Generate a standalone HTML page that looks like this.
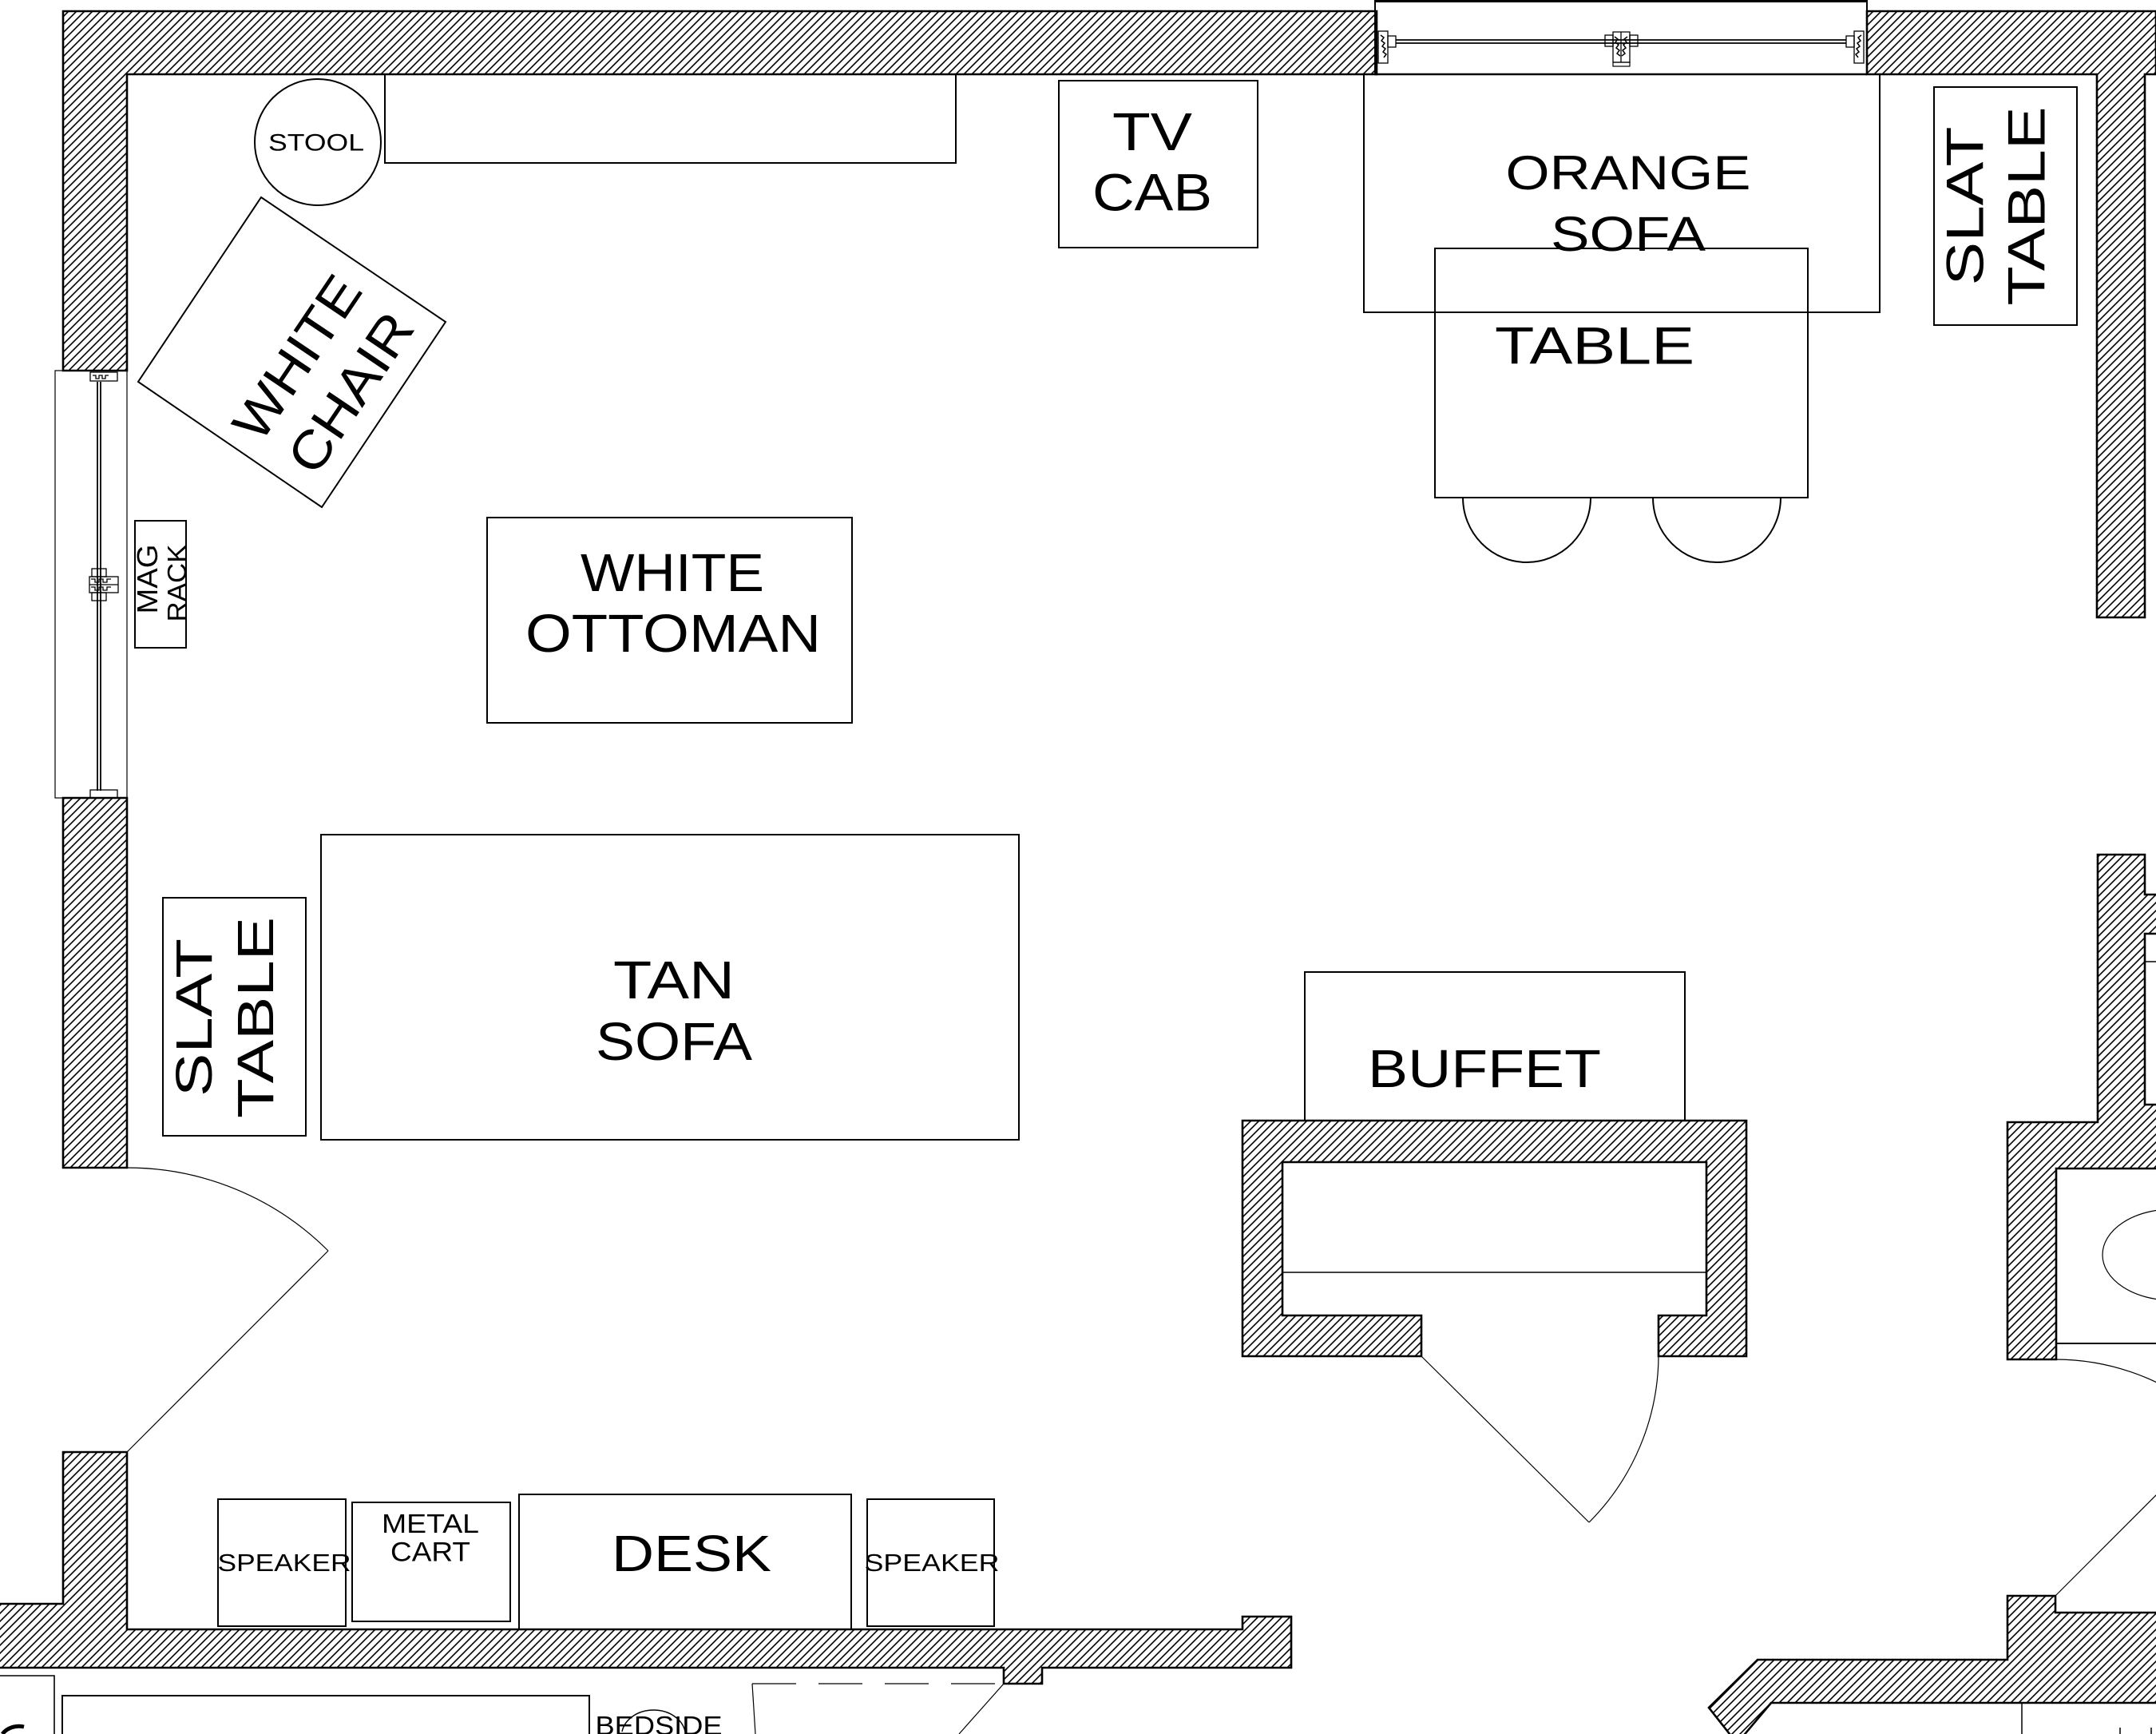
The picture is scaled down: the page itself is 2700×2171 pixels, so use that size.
<!DOCTYPE html>
<html>
<head>
<meta charset="utf-8">
<style>
html,body{margin:0;padding:0;background:#fff;}
svg{display:block;}
text{font-family:"Liberation Sans", sans-serif; fill:#000;}
</style>
</head>
<body>
<svg width="2700" height="2171" viewBox="0 0 2700 2171" xmlns="http://www.w3.org/2000/svg">
<defs>
<pattern id="h" width="10" height="10" patternUnits="userSpaceOnUse">
<path d="M0,10 L10,0 M-2,2 L2,-2 M8,12 L12,8" stroke="#000" stroke-width="1.6" fill="none"/>
</pattern>
</defs>
<rect width="2700" height="2171" fill="#fff"/>

<!-- WALLS -->
<g fill="url(#h)" stroke="#000" stroke-width="2.6" stroke-linejoin="miter">
<polygon points="79,14 1724,14 1724,93 159,93 159,464 79,464"/>
<polygon points="2338,14 2700,14 2700,93 2686,93 2686,773 2626,773 2626,93 2338,93"/>
<polygon points="79,999 159,999 159,1462 79,1462"/>
<polygon points="79,1818 159,1818 159,2040 1556,2040 1556,2024 1617,2024 1617,2088 1305,2088 1305,2108 1257,2108 1257,2088 -5,2088 -5,2008 79,2008"/>
<polygon points="1556,1403 2187,1403 2187,1698 2077,1698 2077,1647 2137,1647 2137,1455 1606,1455 1606,1647 1780,1647 1780,1698 1556,1698"/>
<polygon points="2627,1070 2686,1070 2686,1120 2705,1120 2705,1169 2686,1169 2686,1383 2705,1383 2705,1463 2575,1463 2575,1702 2514,1702 2514,1405 2627,1405"/>
<polygon points="2201,2078 2514,2078 2514,1998 2574,1998 2574,2019 2705,2019 2705,2132 2218,2132 2181,2176 2170,2176 2140,2138"/>
</g>

<!-- Top window -->
<g stroke="#000" fill="none">
<line x1="1722" y1="1.5" x2="2338" y2="1.5" stroke-width="3"/>
<line x1="1722" y1="0" x2="1722" y2="93" stroke-width="2"/>
<line x1="2338" y1="0" x2="2338" y2="93" stroke-width="2"/>
<line x1="1722" y1="93" x2="2338" y2="93" stroke-width="2.5"/>
<line x1="1748" y1="50" x2="2312" y2="50" stroke-width="1.8"/>
<line x1="1748" y1="54" x2="2312" y2="54" stroke-width="1.8"/>
<rect x="1726" y="39" width="12" height="40" stroke-width="1.3"/>
<rect x="1738" y="45" width="10" height="14" stroke-width="1.3"/>
<path d="M1729,44 l4,3 l-3,4 l4,3 l-3,4 l4,3 l-3,4 l4,3 l-3,4" stroke-width="1.5"/>
<rect x="2010" y="44" width="10" height="14" stroke-width="1.3"/>
<rect x="2041" y="44" width="10" height="14" stroke-width="1.3"/>
<path d="M2020,40 h21 v38 h-21 z" stroke-width="1.3"/>
<line x1="2030" y1="40" x2="2030" y2="78" stroke-width="1.3"/>
<rect x="2020" y="78" width="21" height="5" stroke-width="1.2"/>
<path d="M2022,46 l4,3 l-3,4 l4,3 l-3,4 l4,3 l-3,4 l4,3 M2038,46 l-4,3 l3,4 l-4,3 l3,4 l-4,3 l3,4 l-4,3" stroke-width="1.5"/>
<rect x="2322" y="39" width="12" height="40" stroke-width="1.3"/>
<rect x="2312" y="45" width="10" height="14" stroke-width="1.3"/>
<path d="M2331,44 l-4,3 l3,4 l-4,3 l3,4 l-4,3 l3,4 l-4,3 l3,4" stroke-width="1.5"/>
</g>

<!-- Left window -->
<g stroke="#000" fill="none">
<rect x="69" y="464" width="90" height="535" stroke-width="1.2"/>
<line x1="122" y1="478" x2="122" y2="990" stroke-width="1.8"/>
<line x1="126" y1="478" x2="126" y2="990" stroke-width="1.8"/>
<rect x="113" y="466" width="34" height="11" stroke-width="1.3"/>
<path d="M116,470 h4 v4 h4 v-4 h4 v4 h4 v-4 h4" stroke-width="1.3"/>
<rect x="115" y="712" width="18" height="10" stroke-width="1.3"/>
<rect x="115" y="742" width="18" height="10" stroke-width="1.3"/>
<rect x="112" y="722" width="36" height="20" stroke-width="1.3"/>
<line x1="112" y1="732" x2="148" y2="732" stroke-width="1.3"/>
<path d="M114,725 h5 v4 h5 v-4 h5 v4 h5 v-4 h5 M114,735 h5 v4 h5 v-4 h5 v4 h5 v-4 h5" stroke-width="1.3"/>
<rect x="113" y="989" width="34" height="10" stroke-width="1.3"/>
</g>

<!-- Doors / thin lines -->
<g stroke="#000" fill="none" stroke-width="1.2">
<path d="M159,1462 A356,356 0 0 1 411,1566"/>
<line x1="159" y1="1818" x2="411" y2="1566"/>
<line x1="1780" y1="1698" x2="1990" y2="1906"/>
<path d="M1990,1906 A297,297 0 0 0 2077,1698"/>
<line x1="1606" y1="1593" x2="2137" y2="1593" stroke-width="1.6"/>
<path d="M2574,1702 A296,296 0 0 1 2783,1789"/>
<line x1="2574" y1="1998" x2="2783" y2="1789"/>
<line x1="2575" y1="1682" x2="2700" y2="1682" stroke-width="2"/>
<ellipse cx="2720" cy="1571" rx="87" ry="57"/>
<rect x="2686" y="1169" width="20" height="214" stroke-width="2"/>
<line x1="2686" y1="1204" x2="2700" y2="1204" stroke-width="1.5"/>
<line x1="2532" y1="2132" x2="2532" y2="2171" stroke-width="1.5"/>
<line x1="2655" y1="2163" x2="2655" y2="2171" stroke-width="1.5"/>
<line x1="2694" y1="2163" x2="2694" y2="2171" stroke-width="1.5"/>
<polyline points="0,2098 68,2098 68,2171" stroke-width="1.6"/>
<polyline points="78,2171 78,2123 738,2123 738,2171" stroke-width="2"/>
<line x1="942" y1="2108" x2="1257" y2="2108" stroke-dasharray="55 28"/>
<line x1="942" y1="2108" x2="946" y2="2171"/>
<line x1="1257" y1="2108" x2="1201" y2="2171"/>
<path d="M779,2168 A40,32 0 0 1 858,2168" stroke-width="1.5"/>
<path d="M30,2162 A24,20 0 0 0 3,2171" stroke-width="5"/>
</g>

<!-- FURNITURE -->
<g stroke="#000" fill="none" stroke-width="2">
<rect x="482" y="93" width="715" height="111"/>
<circle cx="398" cy="178" r="79"/>
<polygon points="327,247 558,403 403,635 173,478"/>
<rect x="169" y="652" width="64" height="159"/>
<rect x="1326" y="101" width="249" height="209"/>
<rect x="1708" y="93" width="646" height="298"/>
<rect x="1797" y="311" width="467" height="312"/>
<path d="M1832,623 A80,81 0 0 0 1992,623"/>
<path d="M2070,623 A80,81 0 0 0 2230,623"/>
<rect x="2422" y="109" width="179" height="298"/>
<rect x="610" y="648" width="457" height="257"/>
<rect x="402" y="1045" width="874" height="382"/>
<rect x="204" y="1124" width="179" height="298"/>
<rect x="273" y="1877" width="160" height="159"/>
<rect x="441" y="1881" width="198" height="149"/>
<rect x="650" y="1871" width="416" height="169"/>
<rect x="1086" y="1877" width="159" height="159"/>
<rect x="1634" y="1217" width="476" height="186"/>
</g>

<!-- LABELS -->
<g text-anchor="middle">
<text x="396" y="188.5" font-size="29.5" textLength="120" lengthAdjust="spacingAndGlyphs">STOOL</text>

<g transform="translate(371,447) rotate(-56)"><text x="0" y="24" font-size="66" textLength="232" lengthAdjust="spacingAndGlyphs">WHITE</text></g>
<g transform="translate(438,491) rotate(-56)"><text x="0" y="24" font-size="66" textLength="226" lengthAdjust="spacingAndGlyphs">CHAIR</text></g>

<g transform="translate(184,725) rotate(-90)"><text x="0" y="13" font-size="36" textLength="87" lengthAdjust="spacingAndGlyphs">MAG</text></g>
<g transform="translate(221,730) rotate(-90)"><text x="0" y="12" font-size="33.5" textLength="97" lengthAdjust="spacingAndGlyphs">RACK</text></g>

<text x="1443" y="188" font-size="67" textLength="100" lengthAdjust="spacingAndGlyphs">TV</text>
<text x="1443" y="263.5" font-size="66" textLength="150" lengthAdjust="spacingAndGlyphs">CAB</text>

<text x="2039" y="237" font-size="60" textLength="307" lengthAdjust="spacingAndGlyphs">ORANGE</text>
<text x="2039" y="314" font-size="61" textLength="194" lengthAdjust="spacingAndGlyphs">SOFA</text>
<text x="1997" y="455.5" font-size="65.5" textLength="250" lengthAdjust="spacingAndGlyphs">TABLE</text>

<g transform="translate(2460,258) rotate(-90)"><text x="0" y="23.5" font-size="65.5" textLength="199" lengthAdjust="spacingAndGlyphs">SLAT</text></g>
<g transform="translate(2537,258) rotate(-90)"><text x="0" y="23.5" font-size="65.5" textLength="249" lengthAdjust="spacingAndGlyphs">TABLE</text></g>

<text x="842" y="740" font-size="67" textLength="230" lengthAdjust="spacingAndGlyphs">WHITE</text>
<text x="843" y="816" font-size="67" textLength="370" lengthAdjust="spacingAndGlyphs">OTTOMAN</text>

<text x="844" y="1250" font-size="67" textLength="152" lengthAdjust="spacingAndGlyphs">TAN</text>
<text x="844" y="1327" font-size="67" textLength="196" lengthAdjust="spacingAndGlyphs">SOFA</text>

<g transform="translate(242,1274) rotate(-90)"><text x="0" y="23" font-size="64" textLength="198" lengthAdjust="spacingAndGlyphs">SLAT</text></g>
<g transform="translate(319,1274) rotate(-90)"><text x="0" y="23" font-size="64" textLength="252" lengthAdjust="spacingAndGlyphs">TABLE</text></g>

<text x="356" y="1967" font-size="30.5" textLength="167" lengthAdjust="spacingAndGlyphs">SPEAKER</text>
<text x="539" y="1919" font-size="33" textLength="122" lengthAdjust="spacingAndGlyphs">METAL</text>
<text x="539" y="1954.5" font-size="34" textLength="100" lengthAdjust="spacingAndGlyphs">CART</text>
<text x="866" y="1967" font-size="64" textLength="200" lengthAdjust="spacingAndGlyphs">DESK</text>
<text x="1167" y="1967" font-size="30.5" textLength="169" lengthAdjust="spacingAndGlyphs">SPEAKER</text>

<text x="1859" y="1361" font-size="67" textLength="292" lengthAdjust="spacingAndGlyphs">BUFFET</text>

<text x="825" y="2172" font-size="33" textLength="159" lengthAdjust="spacingAndGlyphs">BEDSIDE</text>
</g>
</svg>
</body>
</html>
